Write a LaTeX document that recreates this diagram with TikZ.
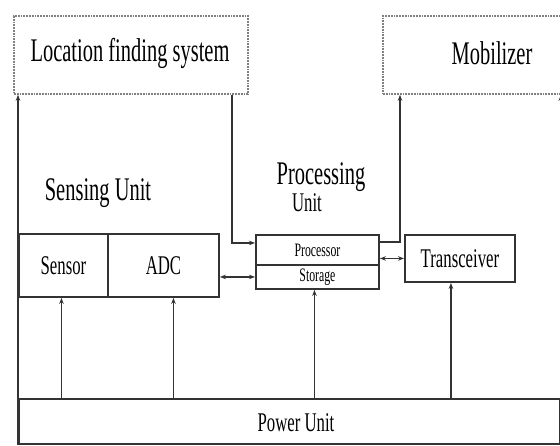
\documentclass[tikz,border=0pt]{standalone}
\usepackage{fontspec}
\setmainfont{Liberation Serif}
\newfontfamily\cond[FakeStretch=0.62]{Liberation Serif}
\usetikzlibrary{arrows.meta}
\definecolor{ink}{HTML}{333333}
\definecolor{dotgray}{HTML}{808080}
\tikzset{
  unitbox/.style={draw=ink, line width=1.9pt, rectangle, anchor=north west, inner sep=1pt, text=black},
  outerbox/.style={draw=dotgray, densely dotted, line width=1.8pt, rectangle, anchor=north west, inner sep=0pt},
  label/.style={inner sep=0pt, text=black},
  conn/.style={draw=ink, line width=1.6pt, -{Stealth[length=6pt,width=4.5pt]}},
  dconn/.style={draw=ink, line width=1.6pt, {Stealth[length=6pt,width=4.5pt]}-{Stealth[length=6pt,width=4.5pt]}},
  bigfont/.style={font=\cond\fontsize{33}{36}\selectfont},
  midfont/.style={font=\cond\fontsize{27}{30}\selectfont},
  smallfont/.style={font=\cond\fontsize{19}{21}\selectfont}
}
\begin{document}
\begin{tikzpicture}[x=1pt,y=-1pt]
\useasboundingbox (0,0) rectangle (560,445);

% external subsystems
\node[outerbox, minimum width=234pt, minimum height=78pt] (loc) at (13,15) {};
\node[label, bigfont] (loctext) at (130,53) {Location finding system};
\node[outerbox, minimum width=180pt, minimum height=78pt] (mob) at (382,15) {};
\node[label, bigfont] (mobtext) at (492,53) {Mobilizer};

% sensing unit
\node[label, bigfont] (senslabel) at (98,193) {Sensing Unit};
\node[unitbox, midfont, minimum width=89pt, minimum height=63pt] (sensor) at (18,233) {Sensor};
\node[unitbox, midfont, minimum width=111pt, minimum height=63pt] (adc) at (107,233) {ADC};

% processing unit
\node[label, bigfont] (proclabel) at (321,177) {Processing};
\node[label, midfont] (proclabel2) at (307,203) {Unit};
\node[unitbox, smallfont, minimum width=123pt, minimum height=30pt] (proc) at (255,234) {Processor};
\node[unitbox, smallfont, minimum width=123pt, minimum height=24pt] (stor) at (255,264) {Storage};

% transceiver
\node[unitbox, midfont, minimum width=110pt, minimum height=47pt] (trans) at (404,234) {Transceiver};

% power unit
\node[unitbox, minimum width=541pt, minimum height=45pt] (power) at (18,398) {};
\node[label, midfont] (powertext) at (296,423) {Power Unit};

% power supply lines
\draw[conn] (power.south west) -- (power.south west |- loc.south);
\draw[conn] (power.south east) -- (power.south east |- mob.south);
\draw[conn] ([xshift=-2pt]sensor.south |- power.north) -- ([xshift=-2pt]sensor.south);
\draw[conn] ([xshift=10pt]adc.south |- power.north) -- ([xshift=10pt]adc.south);
\draw[conn] ([xshift=-3pt]stor.south |- power.north) -- ([xshift=-3pt]stor.south);
\draw[conn] ([xshift=-9pt]trans.south |- power.north) -- ([xshift=-9pt]trans.south);

% data paths
\draw[conn] ([xshift=-17pt]loc.south east) |- ([yshift=7pt]proc.west);
\draw[conn] ([yshift=8pt]proc.east) -| ([xshift=18pt]mob.south west);
\draw[dconn] (stor.west -| adc.east) -- (stor.west);
\draw[dconn] (trans.west -| proc.east) -- (trans.west);
\end{tikzpicture}
\end{document}
